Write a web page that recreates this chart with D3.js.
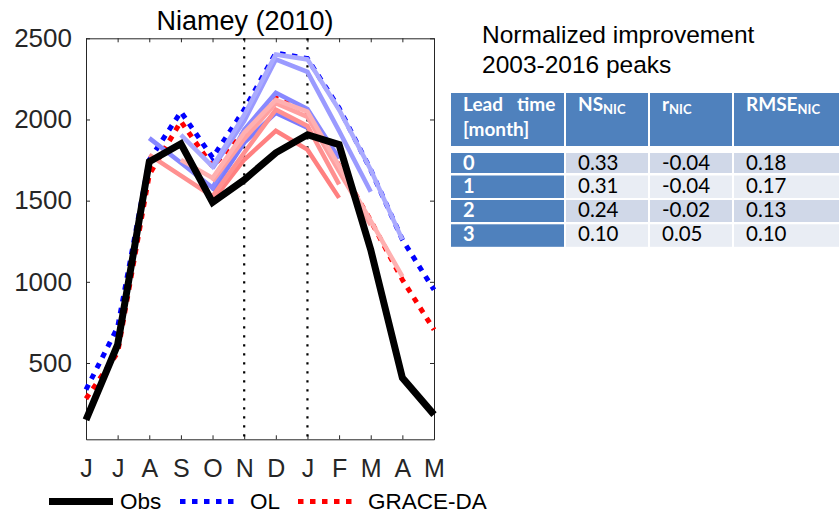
<!DOCTYPE html>
<html><head><meta charset="utf-8">
<script src="https://cdn.jsdelivr.net/npm/d3@7"></script>
<style>body{margin:0;background:#fff}svg{display:block}</style>
</head><body>
<svg id="c" width="839" height="514"></svg>
<script>
const months = ["J","J","A","S","O","N","D","J","F","M","A","M"];
const yTicks = [500,1000,1500,2000,2500];
const obs = [150, 613, 1740, 1850, 1489, 1628, 1795, 1906, 1845, 1198, 409, 182];
const ol  = [336, 720, 1750, 2047, 1765, 2060, 2410, 2375, 2070, 1690, 1260, 951];
const da  = [280, 563, 1660, 1988, 1710, 1920, 2133, 2048, 1714, 1376, 1013, 705];
// forecast runs (OL-based, blue shades) and (GRACE-DA-based, red shades)
const fcOL0 = [null,null,null,1905,1710,2028,2400,2370,2060,1690,1260,null];
const fcOL1 = [null,null,null,null,1700,1990,2370,2293,1930,1555,null,null];
const fcOL2 = [null,null,1885,1733,1579,1937,2164,2065,1760,null,null,null];
const fcOL3 = [null,null,null,null,1560,1857,2040,1950,null,null,null,null];
const fcDA0 = [null,null,null,1751,1640,1918,2121,2048,1714,1376,1033,null];
const fcDA1 = [null,null,null,null,1620,1880,2100,2016,1680,1350,null,null];
const fcDA2 = [null,null,1782,1654,1526,1795,2060,1960,1600,null,null,null];
const fcDA3 = [null,null,null,null,1500,1752,1930,1814,1517,null,null,null];
const vLines = [5, 7];
const legendItems = ["Obs","OL","GRACE-DA"];
const tableTitle = ["Normalized improvement","2003-2016 peaks"];
const leadTimes = ["0","1","2","3"];
const nsNIC = ["0.33","0.31","0.24","0.10"];
const rNIC = ["-0.04","-0.04","-0.02","0.05"];
const rmseNIC = ["0.18","0.17","0.13","0.10"];

const svg = d3.select("#c");
const L = 86, R = 434, T = 38.3, B = 439.3;
const x = d3.scaleLinear().domain([0, 11]).range([L, R]);
const y = d3.scaleLinear().domain([30, 2500]).range([B, T]);
const font = "Liberation Sans, Arial, Helvetica, sans-serif";
const tfont = "Lato, 'Open Sans', sans-serif";

// title
svg.append("text").attr("x", 245).attr("y", 30).attr("text-anchor","middle")
  .attr("font-family", font).attr("font-size", 27).attr("fill","#000").text("Niamey (2010)");

// frame + ticks
const gL = svg.append("g").attr("transform",`translate(${L},0)`)
  .call(d3.axisLeft(y).tickValues(yTicks).tickSizeInner(-4).tickSizeOuter(0).tickPadding(14).tickFormat(d3.format("d")));
gL.selectAll("text").attr("font-family", font).attr("font-size", 26).attr("fill","#262626");
const gR = svg.append("g").attr("transform",`translate(${R},0)`)
  .call(d3.axisRight(y).tickValues(yTicks).tickSizeInner(-4).tickSizeOuter(0).tickFormat(""));
const gB = svg.append("g").attr("transform",`translate(0,${B})`)
  .call(d3.axisBottom(x).tickValues(d3.range(12)).tickSizeInner(-4).tickSizeOuter(0).tickFormat(i => months[i]).tickPadding(20));
gB.selectAll("text").attr("font-family", font).attr("font-size", 25).attr("fill","#262626");
const gT = svg.append("g").attr("transform",`translate(0,${T})`)
  .call(d3.axisTop(x).tickValues(d3.range(12)).tickSizeInner(-4).tickSizeOuter(0).tickFormat(""));
[gL,gR,gB,gT].forEach(g => { g.select(".domain").attr("stroke","#262626"); g.selectAll(".tick line").attr("stroke","#262626"); });

// vertical dotted lines
svg.append("g").selectAll("line").data(vLines).join("line")
  .attr("x1", d => x(d)).attr("x2", d => x(d)).attr("y1", T).attr("y2", B)
  .attr("stroke","#000").attr("stroke-width",2.2).attr("stroke-dasharray","2.2,6.8");

const line = d3.line().defined(d => d != null).x((d,i) => x(i)).y(d => y(d));
function path(data, color, w, dash) {
  const p = svg.append("path").datum(data).attr("d", line).attr("fill","none")
    .attr("stroke", color).attr("stroke-width", w).attr("stroke-linejoin","miter");
  if (dash) p.attr("stroke-dasharray", dash);
  return p;
}
path(ol, "#0000ff", 5, "5.5,6.5");
path(da, "#ff0000", 5, "5.5,6.5");
path(fcOL3, "#7b7bff", 4.5);
path(fcDA3, "#ff8080", 4.5);
path(fcOL2, "#8888ff", 4.5);
path(fcDA2, "#ff9090", 4.5);
path(fcOL1, "#9a9aff", 4.5);
path(fcDA1, "#ffa0a0", 4.5);
path(fcOL0, "#aaaaff", 4.5);
path(fcDA0, "#ffb0b0", 4.5);
path(obs, "#000", 7);

// legend
const lg = svg.append("g");
const lgX = [49, 180, 298], lgCol = ["#000","#0000ff","#ff0000"], lgDash = [null,"5.5,6.5","5.5,6.5"], lgW=[7,5,5];
legendItems.forEach((t,i) => {
  const l = lg.append("line").attr("x1", lgX[i]).attr("x2", lgX[i]+(i?58:64)).attr("y1",501.5).attr("y2",501.5)
    .attr("stroke", lgCol[i]).attr("stroke-width", lgW[i]);
  if (lgDash[i]) l.attr("stroke-dasharray", lgDash[i]);
  lg.append("text").attr("x", lgX[i] + (i?70:71)).attr("y", 509).attr("font-family", font)
    .attr("font-size", 22.5).attr("fill","#000").text(t);
});

// right-side title
tableTitle.forEach((t,i) => svg.append("text").attr("x",482).attr("y",43+i*30)
  .attr("font-family", font).attr("font-size", 24.5).attr("fill","#000").text(t));

// table
const colX = [451, 566, 650, 734], colW = [113, 82, 82, 106];
const hdrBlue = "#4f81bd";
const tb = svg.append("g");
colX.forEach((cx,i) => tb.append("rect").attr("x",cx).attr("y",93).attr("width",colW[i]).attr("height",53).attr("fill",hdrBlue));
const rowY = [153, 175.5, 200, 224.3], rowH = [20, 22.5, 22, 22.5];
const rowFill = ["#d0d8e8","#e9edf4","#d0d8e8","#e9edf4"];
leadTimes.forEach((lt,r) => {
  colX.forEach((cx,i) => tb.append("rect").attr("x",cx).attr("y",rowY[r]).attr("width",colW[i]).attr("height",rowH[r])
    .attr("fill", i===0 ? hdrBlue : rowFill[r]));
  tb.append("text").attr("x",463).attr("y",rowY[r]+17).attr("font-family",tfont).attr("font-weight","bold")
    .attr("font-size",20).attr("fill","#fff").text(lt);
  [nsNIC, rNIC, rmseNIC].forEach((arr,j) => tb.append("text").attr("x",colX[j+1]+12).attr("y",rowY[r]+17)
    .attr("font-family",tfont).attr("font-size",20.5).attr("fill","#000").text(arr[r]));
});
const h1 = tb.append("text").attr("font-family",tfont).attr("font-weight","bold").attr("font-size",19).attr("fill","#fff");
h1.append("tspan").attr("x",463).attr("y",111).text("Lead");
h1.append("tspan").attr("x",517).attr("y",111).text("time");
h1.append("tspan").attr("x",463).attr("y",136).text("[month]");
[["NS",578],["r",662],["RMSE",746]].forEach(([m,xx]) => {
  const t = tb.append("text").attr("x",xx).attr("y",111).attr("font-family",tfont).attr("font-weight","bold")
    .attr("font-size",19).attr("fill","#fff");
  t.append("tspan").text(m);
  t.append("tspan").attr("font-size",13).attr("dy",3).text("NIC");
});
</script>
</body></html>
